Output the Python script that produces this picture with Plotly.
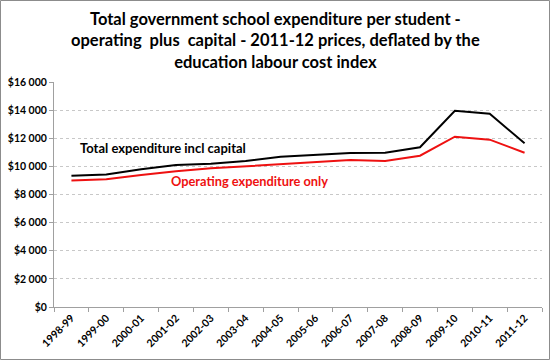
import plotly.graph_objects as go

years = ["1998-99", "1999-00", "2000-01", "2001-02", "2002-03", "2003-04", "2004-05",
         "2005-06", "2006-07", "2007-08", "2008-09", "2009-10", "2010-11", "2011-12"]
total_incl_capital = [9330, 9430, 9800, 10090, 10190, 10380, 10690,
                      10830, 10950, 10970, 11360, 13950, 13740, 11640]
operating_only = [9000, 9090, 9380, 9660, 9860, 10000, 10190,
                  10330, 10450, 10380, 10760, 12110, 11900, 10970]
y_tick_vals = [0, 2000, 4000, 6000, 8000, 10000, 12000, 14000, 16000]
y_tick_text = ["$0", "$2 000", "$4 000", "$6 000", "$8 000", "$10 000", "$12 000", "$14 000", "$16 000"]

FONT = "Lato"

fig = go.Figure()
fig.add_trace(go.Scatter(x=years, y=total_incl_capital, mode="lines",
                         line=dict(color="black", width=2), name="Total expenditure incl capital"))
fig.add_trace(go.Scatter(x=years, y=operating_only, mode="lines",
                         line=dict(color="#ee1111", width=2), name="Operating expenditure only"))

L, R, T, B = 54, 8, 82, 53
W, H = 550, 360
pw, ph = W - L - R, H - T - B

def px_x(p):
    return (p - L) / pw

def px_y(p):
    return (H - B - p) / ph

fig.update_layout(
    width=W, height=H,
    margin=dict(l=L, r=R, t=T, b=B),
    paper_bgcolor="white", plot_bgcolor="white",
    showlegend=False,
    font=dict(family=FONT, color="black"),
    xaxis=dict(
        type="category", showgrid=False, showline=True, linecolor="#a0a0a0", linewidth=1,
        ticks="outside", tickson="boundaries", ticklen=4, tickcolor="#a0a0a0",
        tickangle=-45, tickfont=dict(family=FONT, size=10.5, color="black"),
        range=[-0.5, len(years) - 0.5], automargin=False,
        tickvals=years, ticktext=[f"<b>{y}</b>" for y in years],
    ),
    yaxis=dict(
        range=[0, 16000], tickvals=y_tick_vals, ticktext=[f"<b>{t}</b>" for t in y_tick_text],
        showgrid=True, gridcolor="#c8c8c8", griddash="dot", gridwidth=1,
        showline=True, linecolor="#a0a0a0", linewidth=1,
        ticks="outside", ticklen=4, tickcolor="#a0a0a0",
        tickfont=dict(family=FONT, size=10.5, color="black"), zeroline=False,
        automargin=False,
    ),
)

fig.add_annotation(
    text="<b>Total government school expenditure per student -<br>operating  plus  capital - 2011-12 prices, deflated by the<br>education labour cost index</b>",
    xref="paper", yref="paper", x=px_x(275), y=px_y(41), xanchor="center", yanchor="middle",
    showarrow=False, align="center", font=dict(family=FONT, size=16.5, color="black"))

fig.add_annotation(text="<b>Total expenditure incl capital</b>", xref="paper", yref="paper",
                   x=px_x(78), y=px_y(147.7), xanchor="left", yanchor="middle",
                   showarrow=False, font=dict(family=FONT, size=13, color="black"))
fig.add_annotation(text="<b>Operating expenditure only</b>", xref="paper", yref="paper",
                   x=px_x(169), y=px_y(180.7), xanchor="left", yanchor="middle",
                   showarrow=False, font=dict(family=FONT, size=12.8, color="#ee1111"))

fig.add_shape(type="rect", xref="paper", yref="paper",
              x0=px_x(0.5), x1=px_x(549.5), y0=px_y(359.5), y1=px_y(0.5),
              line=dict(color="#8c8c8c", width=1), fillcolor="rgba(0,0,0,0)", layer="above")

fig.write_html("out.html", config={"displayModeBar": False},
               post_script="document.body.style.margin='0';document.body.style.padding='0';")
